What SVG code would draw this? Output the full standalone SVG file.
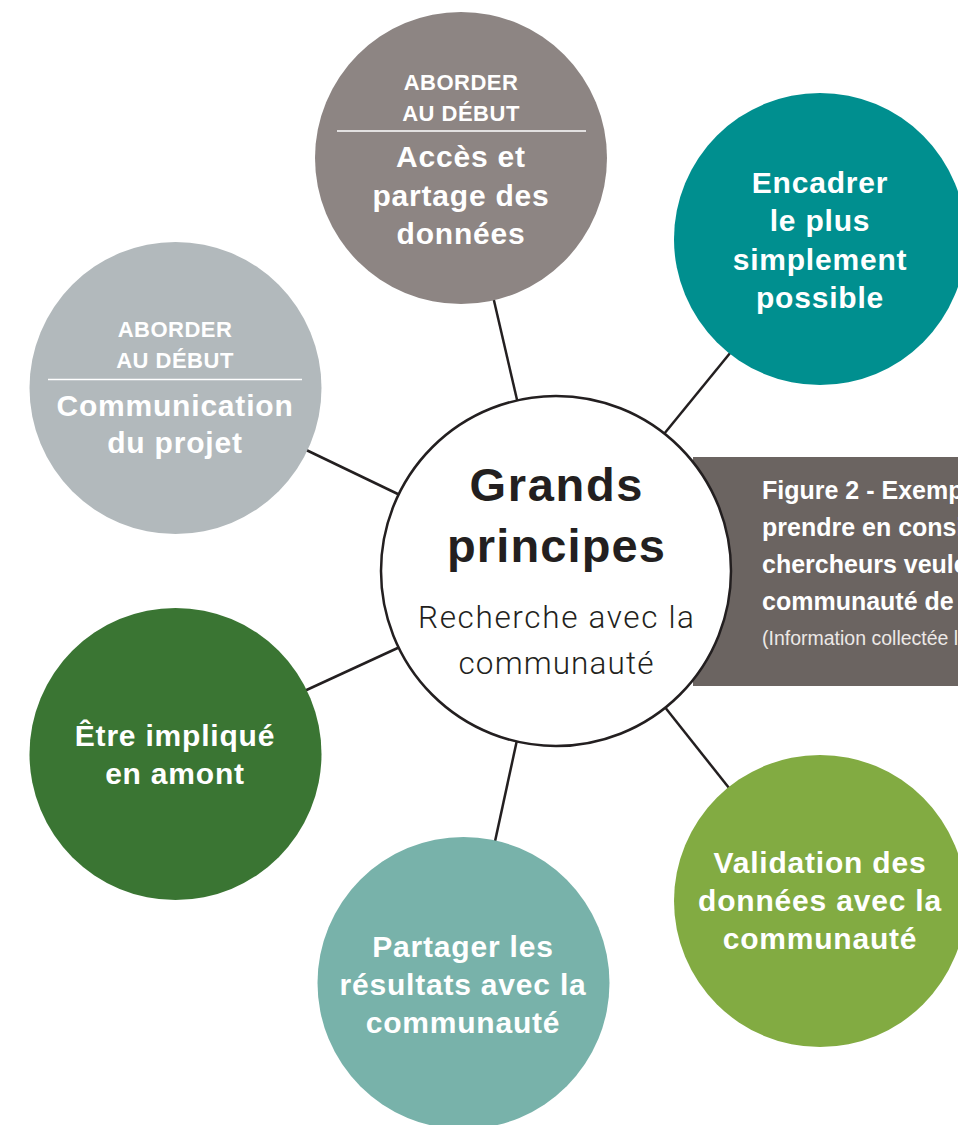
<svg xmlns="http://www.w3.org/2000/svg" width="958" height="1125" viewBox="0 0 958 1125">
<style>
.lbl{font-family:"Liberation Sans",Arial,sans-serif;font-weight:bold;font-size:30px;fill:#fff;text-anchor:middle;letter-spacing:0.8px}
.tag{font-size:22px;letter-spacing:0.5px}
.rule{stroke:#fff;stroke-width:1.6}
.conn line{stroke:#231f20;stroke-width:2.5;stroke-linecap:butt}
.cap{font-family:"Liberation Sans",Arial,sans-serif;font-weight:bold;font-size:25px;fill:#fff}
.capsm{font-family:"Liberation Sans",Arial,sans-serif;font-size:19.5px;fill:#ece8e6}
.ctitle{font-family:"Liberation Sans",Arial,sans-serif;font-weight:bold;font-size:47px;fill:#231f20;text-anchor:middle}
.csub{font-family:Roboto,"Liberation Sans",Arial,sans-serif;font-weight:300;font-size:31.5px;fill:#231f20;text-anchor:middle}
</style>
<rect width="958" height="1125" fill="#fff"/>
<g id="connectors" class="conn">
<line x1="492" y1="292" x2="518" y2="404"/>
<line x1="735" y1="347" x2="664" y2="434"/>
<line x1="300" y1="447" x2="402" y2="496"/>
<line x1="300" y1="693" x2="402" y2="646"/>
<line x1="494" y1="846" x2="517" y2="740"/>
<line x1="664" y1="706" x2="733" y2="793"/>
</g>
<g id="caption">
<rect x="693" y="457" width="265" height="229" fill="#6b6461"/>
<text class="cap" x="762" y="499">Figure 2 - Exemp</text>
<text class="cap" x="762" y="536">prendre en consi</text>
<text class="cap" x="762" y="573">chercheurs veule</text>
<text class="cap" x="762" y="610">communauté de l</text>
<text class="capsm" x="762" y="645">(Information collectée le</text>
</g>
<g id="center">
<circle cx="556" cy="571" r="175" fill="#fff" stroke="#231f20" stroke-width="2.5"/>
<text class="ctitle" x="556" y="501" textLength="173" lengthAdjust="spacing">Grands</text>
<text class="ctitle" x="556" y="562" textLength="218" lengthAdjust="spacing">principes</text>
<text class="csub" x="556" y="628" textLength="276" lengthAdjust="spacing">Recherche avec la</text>
<text class="csub" x="556" y="674" textLength="195" lengthAdjust="spacing">communauté</text>
</g>
<g id="acces">
<circle cx="461" cy="158" r="146" fill="#8d8583"/>
<text class="lbl tag" x="461" y="90">ABORDER</text>
<text class="lbl tag" x="461" y="121">AU DÉBUT</text>
<line class="rule" x1="337" y1="131" x2="586" y2="131"/>
<text class="lbl" x="461" y="167">Accès et</text>
<text class="lbl" x="461" y="206">partage des</text>
<text class="lbl" x="461" y="244">données</text>
</g>
<g id="encadrer">
<circle cx="820" cy="239" r="146" fill="#008f8f"/>
<text class="lbl" x="820" y="193">Encadrer</text>
<text class="lbl" x="820" y="231">le plus</text>
<text class="lbl" x="820" y="270">simplement</text>
<text class="lbl" x="820" y="308">possible</text>
</g>
<g id="communication">
<circle cx="175.5" cy="388" r="146" fill="#b2b9bc"/>
<text class="lbl tag" x="175" y="337">ABORDER</text>
<text class="lbl tag" x="175" y="368">AU DÉBUT</text>
<line class="rule" x1="48" y1="379.5" x2="302" y2="379.5"/>
<text class="lbl" x="175" y="416">Communication</text>
<text class="lbl" x="175" y="453">du projet</text>
</g>
<g id="etre">
<circle cx="175.5" cy="754" r="146" fill="#3a7533"/>
<text class="lbl" x="175" y="746">Être impliqué</text>
<text class="lbl" x="175" y="784">en amont</text>
</g>
<g id="partager">
<circle cx="463.5" cy="983" r="146" fill="#78b2aa"/>
<text class="lbl" x="463" y="957">Partager les</text>
<text class="lbl" x="463" y="995">résultats avec la</text>
<text class="lbl" x="463" y="1033">communauté</text>
</g>
<g id="validation">
<circle cx="820" cy="901" r="146" fill="#82ab42"/>
<text class="lbl" x="820" y="873">Validation des</text>
<text class="lbl" x="820" y="911">données avec la</text>
<text class="lbl" x="820" y="949">communauté</text>
</g>
</svg>
